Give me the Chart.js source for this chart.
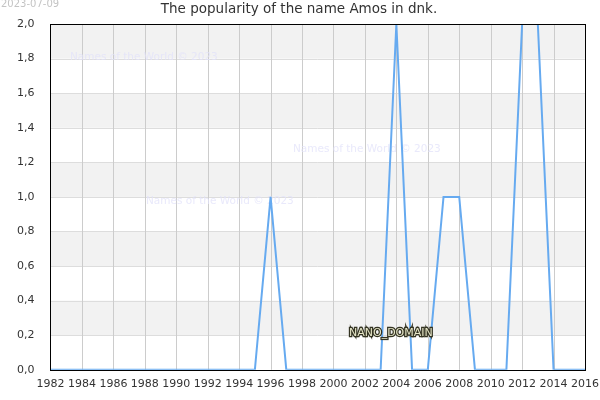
<!DOCTYPE html>
<html>
<head>
<meta charset="utf-8">
<script src="https://cdn.jsdelivr.net/npm/chart.js@4/dist/chart.umd.min.js"></script>
<style>
  html, body { margin: 0; padding: 0; background: #fff; }
  #wrap { width: 600px; height: 400px; position: relative; }
</style>
</head>
<body>
<div id="wrap"><canvas id="chart"></canvas></div>
<script>
// 年ごとの値 (1982-2016)
const years = [];
for (let y = 1982; y <= 2016; y++) years.push(y);
const amos = [
  0, 0, 0, 0, 0, 0, 0, 0, 0, 0,   // 1982-1991
  0, 0, 0, 0, 1, 0, 0, 0, 0, 0,   // 1992-2001
  0, 0, 2, 0, 0, 1, 1, 0, 0, 0,   // 2002-2011
  2, 2, 0, 0, 0                   // 2012-2016
];
const titleText = "The popularity of the name Amos in dnk.";
const dateText = "2023-07-09";
const watermark = "Names of the World © 2023";

const FONT = "'DejaVu Sans', sans-serif";

// 背景の縞模様、枠線、透かし文字を描くプラグイン
const decor = {
  id: "decor",
  beforeDatasetsDraw(c) {
    const { ctx, chartArea: a, scales: { y } } = c;
    ctx.save();
    ctx.fillStyle = "#f2f2f2";
    for (let v = 0.2; v < 2; v += 0.4) {
      const top = y.getPixelForValue(v + 0.2), bot = y.getPixelForValue(v);
      ctx.fillRect(a.left, top, a.right - a.left, bot - top);
    }
    // 縞の上にグリッド線
    ctx.strokeStyle = "#dddddd";
    ctx.lineWidth = 1;
    for (let v = 0.2; v < 2; v += 0.2) {
      const py = Math.round(y.getPixelForValue(v)) + 0.5;
      ctx.beginPath(); ctx.moveTo(a.left, py); ctx.lineTo(a.right, py); ctx.stroke();
    }
    ctx.strokeStyle = "#cccccc";
    const x = c.scales.x;
    for (let v = 1984; v < 2016; v += 2) {
      const px = Math.round(x.getPixelForValue(v)) + 0.5;
      ctx.beginPath(); ctx.moveTo(px, a.top); ctx.lineTo(px, a.bottom); ctx.stroke();
    }
    ctx.font = "10.5px " + FONT;
    ctx.fillStyle = "rgba(225,225,250,0.75)";
    ctx.textBaseline = "middle";
    ctx.fillText(watermark, 70, 57);
    ctx.fillText(watermark, 293, 149);
    ctx.fillText(watermark, 146, 201);
    ctx.restore();
  },
  afterDraw(c) {
    const { ctx, chartArea: a } = c;
    ctx.save();
    ctx.strokeStyle = "#000";
    ctx.lineWidth = 1;
    ctx.strokeRect(Math.round(a.left) + 0.5, Math.round(a.top) + 0.5,
      Math.round(a.right - a.left), Math.round(a.bottom - a.top));
    // タイトルと日付
    ctx.font = "13.5px " + FONT;
    ctx.fillStyle = "#333";
    ctx.textAlign = "center";
    ctx.textBaseline = "middle";
    ctx.fillText(titleText, 299, 9);
    ctx.font = "10px " + FONT;
    ctx.fillStyle = "#c4c4c4";
    ctx.textAlign = "left";
    ctx.fillText(dateText, 1, 4);
    // NANO_DOMAIN
    ctx.font = "11px " + FONT;
    ctx.textBaseline = "middle";
    ctx.lineWidth = 2.5;
    ctx.strokeStyle = "#333322";
    ctx.strokeText("NANO_DOMAIN", 349, 333);
    ctx.fillStyle = "#e6e6c8";
    ctx.fillText("NANO_DOMAIN", 349, 333);
    ctx.restore();
  }
};

new Chart(document.getElementById("chart"), {
  type: "line",
  data: {
    labels: years,
    datasets: [{
      data: years.map((y, i) => ({ x: y, y: amos[i] })),
      borderColor: "#66aaf0",
      borderWidth: 2,
      pointRadius: 0,
      tension: 0,
      fill: false
    }]
  },
  options: {
    responsive: true,
    maintainAspectRatio: false,
    animation: false,
    devicePixelRatio: 1,
    layout: { padding: { top: 24, right: 15, left: 9, bottom: 9 } },
    plugins: { legend: { display: false }, title: { display: false }, tooltip: { enabled: false } },
    scales: {
      x: {
        type: "linear",
        min: 1982, max: 2016,
        grid: { display: false },
        border: { display: false },
        ticks: {
          stepSize: 2, color: "#333", font: { family: FONT, size: 11 },
          maxRotation: 0, autoSkip: false, padding: 0,
          callback: v => String(v)
        }
      },
      y: {
        min: 0, max: 2,
        grid: { display: false },
        border: { display: false },
        ticks: {
          stepSize: 0.2, color: "#333", font: { family: FONT, size: 11 }, padding: 8,
          callback: v => v.toFixed(1).replace(".", ",")
        }
      }
    }
  },
  plugins: [decor]
});
</script>
</body>
</html>
